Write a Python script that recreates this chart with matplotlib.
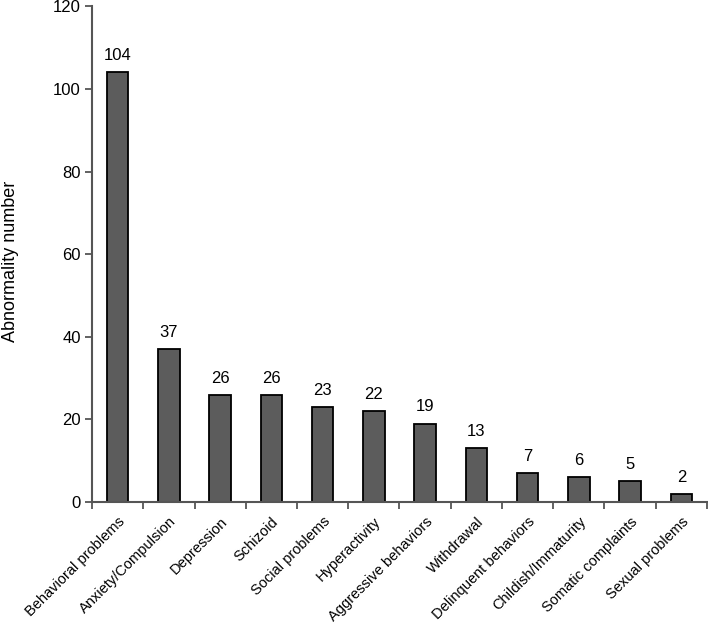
import matplotlib.pyplot as plt
import numpy as np

plt.rcParams['font.family'] = ['Liberation Sans', 'DejaVu Sans']

categories = ['Behavioral problems', 'Anxiety/Compulsion', 'Depression', 'Schizoid',
              'Social problems', 'Hyperactivity', 'Aggressive behaviors', 'Withdrawal',
              'Delinquent behaviors', 'Childish/Immaturity', 'Somatic complaints',
              'Sexual problems']
counts = [104, 37, 26, 26, 23, 22, 19, 13, 7, 6, 5, 2]

fig = plt.figure(figsize=(7.08, 6.26), dpi=100)
ax = fig.add_axes([0.130, 0.198, 0.8685, 0.792])

x = np.arange(len(categories))
ax.bar(x, counts, width=0.42, color='#5c5c5c', edgecolor='black', linewidth=1.3)

for xi, c in zip(x, counts):
    ax.text(xi, c + 2.2, str(c), ha='center', va='bottom', fontsize=12)

ax.set_xlim(-0.5, len(categories) - 0.5)
ax.set_ylim(0, 120)
ax.set_yticks(np.arange(0, 121, 20))

# ticks sit between the bars
ax.set_xticks(x)
ax.set_xticklabels(categories, rotation=45, ha='right', rotation_mode='anchor', fontsize=10.5)
ax.set_xticks(np.arange(-0.5, len(categories)), minor=True)
ax.tick_params(axis='x', which='major', length=0, pad=9)
ax.tick_params(axis='x', which='minor', length=5, width=1.3, color='#555555', direction='out')
ax.tick_params(axis='y', length=5, width=1.3, color='#555555', labelsize=12, pad=3)

ax.set_ylabel('Abnormality number', fontsize=13)
ax.yaxis.set_label_coords(-0.118, 0.485)

for s in ['top', 'right']:
    ax.spines[s].set_visible(False)
for s in ['left', 'bottom']:
    ax.spines[s].set_linewidth(1.5)
    ax.spines[s].set_color('#555555')

fig.savefig('out.png', dpi=100)
